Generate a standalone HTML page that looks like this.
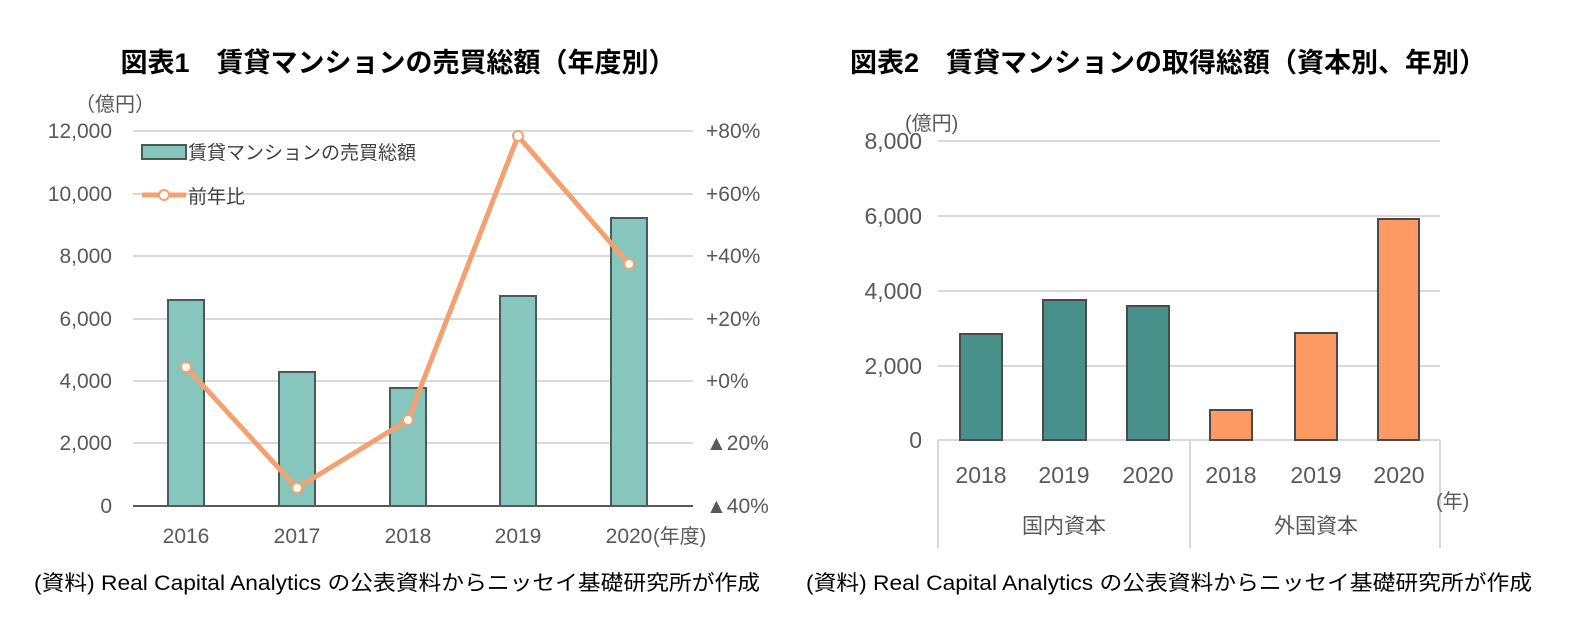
<!DOCTYPE html><html><head><meta charset="utf-8"><style>
body{margin:0;background:#fff;width:1581px;height:639px;overflow:hidden}
svg{font-family:"Liberation Sans","Noto Sans CJK JP",sans-serif}
</style></head><body>
<svg width="1581" height="639" xmlns="http://www.w3.org/2000/svg">
<g font-weight="bold" font-size="27" fill="#000" text-anchor="middle">
<text x="398" y="72">図表1　賃貸マンションの売買総額（年度別）</text>
<text x="1168" y="72">図表2　賃貸マンションの取得総額（資本別、年別）</text>
</g>
<g stroke="#d9d9d9" stroke-width="2">
<line x1="133" x2="693" y1="131" y2="131"/><line x1="133" x2="693" y1="194" y2="194"/>
<line x1="133" x2="693" y1="256" y2="256"/><line x1="133" x2="693" y1="319" y2="319"/>
<line x1="133" x2="693" y1="381" y2="381"/><line x1="133" x2="693" y1="443" y2="443"/>
</g>
<g fill="#87c6bd" stroke="#4a5a57" stroke-width="2">
<rect x="168" y="300" width="36" height="206"/>
<rect x="279" y="372" width="36" height="134"/>
<rect x="390" y="388" width="36" height="118"/>
<rect x="500" y="296" width="36" height="210"/>
<rect x="611" y="218" width="36" height="288"/>
</g>
<line x1="133" x2="693" y1="506" y2="506" stroke="#595959" stroke-width="2"/>
<polyline points="186,367 297,488 408,420 518,136 629,264" fill="none" stroke="#f4a172" stroke-width="5" stroke-linejoin="round"/>
<g fill="#fff" stroke="#f4a172" stroke-width="2">
<circle cx="186" cy="367" r="5"/><circle cx="297" cy="488" r="5"/><circle cx="408" cy="420" r="5"/><circle cx="518" cy="136" r="5"/><circle cx="629" cy="264" r="5"/>
</g>
<g font-size="21" fill="#595959">
<text x="75" y="111" font-size="20">（億円）</text>
<g text-anchor="end"><text x="112" y="138">12,000</text><text x="112" y="201">10,000</text><text x="112" y="263">8,000</text><text x="112" y="326">6,000</text><text x="112" y="388">4,000</text><text x="112" y="450">2,000</text><text x="112" y="513">0</text></g>
<text x="706" y="138">+80%</text><text x="706" y="201">+60%</text><text x="706" y="263">+40%</text><text x="706" y="326">+20%</text><text x="706" y="388">+0%</text><text x="706" y="450">▲20%</text><text x="706" y="513">▲40%</text>
<g text-anchor="middle"><text x="186" y="543">2016</text><text x="297" y="543">2017</text><text x="408" y="543">2018</text><text x="518" y="543">2019</text><text x="629" y="543">2020</text></g>
<text x="653" y="543" font-size="20">(年度)</text>
</g>
<rect x="142" y="145" width="44" height="14" fill="#87c6bd" stroke="#4a5a57" stroke-width="2"/>
<line x1="142" x2="186" y1="195" y2="195" stroke="#f4a172" stroke-width="5"/>
<circle cx="164" cy="195" r="5" fill="#fff" stroke="#f4a172" stroke-width="2"/>
<g font-size="19" fill="#404040"><text x="188" y="159">賃貸マンションの売買総額</text><text x="188" y="203">前年比</text></g>
<g stroke="#d9d9d9" stroke-width="2">
<line x1="938" x2="1440" y1="141" y2="141"/><line x1="938" x2="1440" y1="216" y2="216"/>
<line x1="938" x2="1440" y1="291" y2="291"/><line x1="938" x2="1440" y1="366" y2="366"/>
<line x1="938" x2="1440" y1="440" y2="440"/>
<line x1="938" x2="938" y1="440" y2="548"/><line x1="1190" x2="1190" y1="440" y2="548"/><line x1="1440" x2="1440" y1="440" y2="548"/>
</g>
<g stroke="#4a4a4a" stroke-width="2">
<rect x="960" y="334" width="42" height="106" fill="#47918a"/>
<rect x="1043" y="300" width="43" height="140" fill="#47918a"/>
<rect x="1127" y="306" width="42" height="134" fill="#47918a"/>
<rect x="1210" y="410" width="42" height="30" fill="#fd9a64"/>
<rect x="1295" y="333" width="42" height="107" fill="#fd9a64"/>
<rect x="1378" y="219" width="41" height="221" fill="#fd9a64"/>
</g>
<g font-size="23" fill="#595959">
<text x="905" y="130" font-size="20">(億円)</text>
<g text-anchor="end"><text x="922" y="149">8,000</text><text x="922" y="224">6,000</text><text x="922" y="299">4,000</text><text x="922" y="374">2,000</text><text x="922" y="448">0</text></g>
<g text-anchor="middle"><text x="981" y="483">2018</text><text x="1064" y="483">2019</text><text x="1148" y="483">2020</text><text x="1231" y="483">2018</text><text x="1316" y="483">2019</text><text x="1399" y="483">2020</text>
<text x="1064" y="533" font-size="21">国内資本</text><text x="1316" y="533" font-size="21">外国資本</text></g>
<text x="1436" y="508" font-size="20">(年)</text>
</g>
<g font-size="21" fill="#000">
<text x="34" y="590" textLength="726" lengthAdjust="spacingAndGlyphs">(資料) Real Capital Analytics の公表資料からニッセイ基礎研究所が作成</text>
<text x="806" y="590" textLength="726" lengthAdjust="spacingAndGlyphs">(資料) Real Capital Analytics の公表資料からニッセイ基礎研究所が作成</text>
</g>
</svg>
</body></html>
